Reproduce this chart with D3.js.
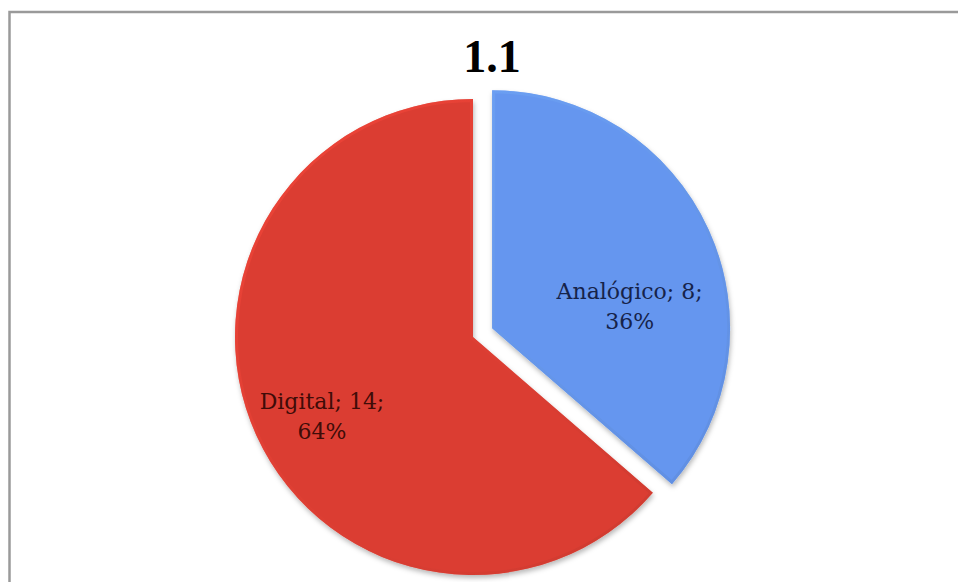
<!DOCTYPE html>
<html>
<head>
<meta charset="utf-8">
<script src="https://cdn.jsdelivr.net/npm/d3@7"></script>
<style>
  html, body { margin: 0; padding: 0; background: #fff; }
  svg { display: block; }
</style>
</head>
<body>
<svg id="chart" width="958" height="582"></svg>
<script>
// Chart data
const title = "1.1";
const categories = ["Analógico", "Digital"];
const values = [8, 14];
const colors = ["#6596ef", "#db3e33"];
const labelColors = ["#16234a", "#3f0c08"];

const W = 958, H = 582;
const svg = d3.select("#chart");

// Frame around the chart area (runs off the right and bottom edges)
svg.append("rect")
  .attr("x", 9.5).attr("y", 12)
  .attr("width", 960).attr("height", 590)
  .attr("fill", "#fff")
  .attr("stroke", "#9a9a9a")
  .attr("stroke-width", 2.5);

// Title
svg.append("text")
  .attr("x", 492).attr("y", 72)
  .attr("text-anchor", "middle")
  .attr("font-family", "'Liberation Serif', 'DejaVu Serif', serif")
  .attr("font-weight", "bold")
  .attr("font-size", 46)
  .attr("fill", "#000")
  .text(title);

const defs = svg.append("defs");

// Soft shadow under each slice
const shadow = defs.append("filter")
  .attr("id", "sliceShadow")
  .attr("x", "-20%").attr("y", "-20%")
  .attr("width", "140%").attr("height", "140%");
shadow.append("feDropShadow")
  .attr("dx", 1).attr("dy", 3)
  .attr("stdDeviation", 2.5)
  .attr("flood-color", "#000")
  .attr("flood-opacity", 0.28);

const cx = 473, cy = 337, radius = 238;
const explode = [21, 0];

const pie = d3.pie().sort(null).value(d => d)(values);
const arc = d3.arc().innerRadius(0).outerRadius(radius);

// Where each label sits inside its slice: fraction along the slice's angle, fraction of radius
const labelLayout = [
  { along: 0.614, rad: 0.586 },
  { along: 0.488, rad: 0.714 }
];

const g = svg.append("g").attr("transform", `translate(${cx},${cy})`);

pie.forEach((p, i) => {
  const mid = (p.startAngle + p.endAngle) / 2;
  const ox = Math.sin(mid) * explode[i];
  const oy = -Math.cos(mid) * explode[i];
  const sg = g.append("g").attr("transform", `translate(${ox},${oy})`);

  const clipId = "clip" + i;
  defs.append("clipPath").attr("id", clipId)
    .append("path").attr("d", arc(p));

  // Bevel gradient: lighter rim on the upper left, darker on the lower right
  const base = d3.color(colors[i]);
  const grad = defs.append("linearGradient")
    .attr("id", "bevel" + i)
    .attr("gradientUnits", "userSpaceOnUse")
    .attr("x1", -radius).attr("y1", -radius)
    .attr("x2", radius).attr("y2", radius);
  grad.append("stop").attr("offset", "0%").attr("stop-color", base.brighter(0.45));
  grad.append("stop").attr("offset", "100%").attr("stop-color", base.darker(0.35));

  sg.append("path")
    .attr("d", arc(p))
    .attr("fill", colors[i])
    .attr("filter", "url(#sliceShadow)");

  sg.append("path")
    .attr("d", arc(p))
    .attr("fill", "none")
    .attr("stroke", `url(#bevel${i})`)
    .attr("stroke-width", 6)
    .attr("stroke-opacity", 0.55)
    .attr("clip-path", `url(#${clipId})`);

  // Data label: "category; value;" and percentage
  const total = d3.sum(values);
  const pct = Math.round(values[i] / total * 100) + "%";
  const a = p.startAngle + labelLayout[i].along * (p.endAngle - p.startAngle);
  const lr = labelLayout[i].rad * radius;
  const lx = Math.sin(a) * lr;
  const ly = -Math.cos(a) * lr;

  const t = sg.append("text")
    .attr("text-anchor", "middle")
    .attr("font-family", "'DejaVu Serif', 'Liberation Serif', serif")
    .attr("font-size", 22)
    .attr("fill", labelColors[i]);
  t.append("tspan").attr("x", lx).attr("y", ly - 6).text(`${categories[i]}; ${values[i]};`);
  t.append("tspan").attr("x", lx).attr("y", ly + 24).text(pct);
});
</script>
</body>
</html>
